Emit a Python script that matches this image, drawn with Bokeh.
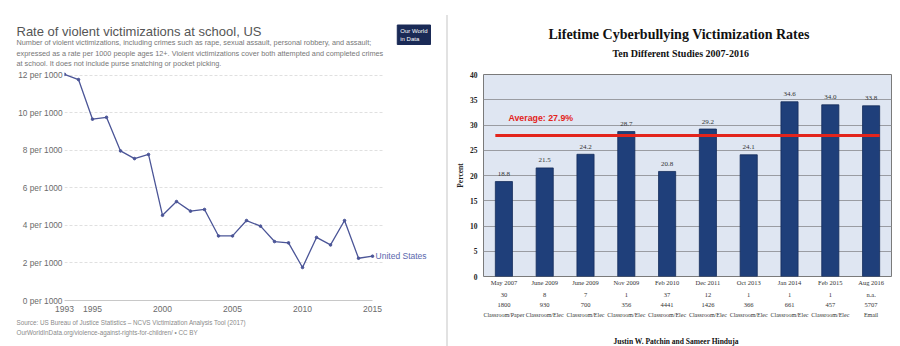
import numpy as np
from bokeh.plotting import figure
from bokeh.models import Range1d, FixedTicker, LinearAxis, Label, Title, Div
from bokeh.layouts import row, column
from bokeh.embed import file_html
from bokeh.resources import INLINE
from bokeh.core.properties import value

# ---------------- left chart data ----------------
years = [1993, 1994, 1995, 1996, 1997, 1998, 1999, 2000, 2001, 2002, 2003, 2004,
         2005, 2006, 2007, 2008, 2009, 2010, 2011, 2012, 2013, 2014, 2015]
rates = [12.05, 11.77, 9.66, 9.76, 7.97, 7.56, 7.78, 4.54, 5.27, 4.76, 4.85, 3.44,
         3.44, 4.26, 3.96, 3.14, 3.07, 1.76, 3.36, 2.96, 4.26, 2.25, 2.36]
x_ticks = [1993, 1995, 2000, 2005, 2010, 2015]
y_ticks = [0, 2, 4, 6, 8, 10, 12]
y_tick_labels = ["0 per 1000", "2 per 1000", "4 per 1000", "6 per 1000",
                 "8 per 1000", "10 per 1000", "12 per 1000"]
left_title = "Rate of violent victimizations at school, US"
left_subtitle = [
    "Number of violent victimizations, including crimes such as rape, sexual assault, personal robbery, and assault;",
    "expressed as a rate per 1000 people ages 12+. Violent victimizations cover both attempted and completed crimes",
    "at school. It does not include purse snatching or pocket picking.",
]
left_source = [
    "Source: US Bureau of Justice Statistics \u2013 NCVS Victimization Analysis Tool (2017)",
    "OurWorldInData.org/violence-against-rights-for-children/ \u2022 CC BY",
]
logo_text = ["Our World", "in Data"]
series_name = "United States"

# ---------------- right chart data ----------------
dates = ["May 2007", "June 2009", "June 2009", "Nov 2009", "Feb 2010",
         "Dec 2011", "Oct 2013", "Jan 2014", "Feb 2015", "Aug 2016"]
percent = [18.8, 21.5, 24.2, 28.7, 20.8, 29.2, 24.1, 34.6, 34.0, 33.8]
schools = ["30", "8", "7", "1", "37", "12", "1", "1", "1", "n.a."]
samples = ["1800", "930", "700", "356", "4441", "1426", "366", "661", "457", "5707"]
methods = ["Classroom/Paper", "Classroom/Elec", "Classroom/Elec", "Classroom/Elec",
           "Classroom/Elec", "Classroom/Elec", "Classroom/Elec", "Classroom/Elec",
           "Classroom/Elec", "Email"]
average = 27.9
r_y_ticks = [0, 5, 10, 15, 20, 25, 30, 35, 40]
right_title = "Lifetime Cyberbullying Victimization Rates"
right_subtitle = "Ten Different Studies 2007-2016"
right_authors = "Justin W. Patchin and Sameer Hinduja"

SANS = "Liberation Sans"
SERIF = "Liberation Serif"

# ================= LEFT =================
L = figure(width=446, height=346, x_range=Range1d(1993, 2019.14), y_range=Range1d(0, 12.2),
           output_backend="svg", toolbar_location=None,
           min_border_left=64, min_border_right=16, min_border_top=71, min_border_bottom=46)
L.outline_line_color = None
L.border_fill_color = "white"
L.xgrid.visible = False
grid = L.ygrid[0]
grid.ticker = FixedTicker(ticks=y_ticks)
grid.grid_line_color = "#e0e0e0"
grid.grid_line_dash = "3 2"
if "cross_bounds" in grid.properties():
    grid.cross_bounds = (1993, 2015.79)

xa = L.xaxis[0]
xa.ticker = FixedTicker(ticks=x_ticks)
xa.bounds = (years[0], years[-1])
xa.axis_line_color = "#c8c8c8"
xa.major_tick_line_color = None
xa.minor_tick_line_color = None
xa.major_tick_out = 0
xa.major_label_text_font = SANS
xa.major_label_text_font_size = "8.5px"
xa.major_label_text_color = "#6b6b6b"
xa.major_label_standoff = 5

ya = L.yaxis[0]
ya.ticker = FixedTicker(ticks=y_ticks)
ya.major_label_overrides = dict(zip(y_ticks, y_tick_labels))
ya.axis_line_color = None
ya.major_tick_line_color = None
ya.minor_tick_line_color = None
ya.major_tick_out = 0
ya.major_label_text_font = SANS
ya.major_label_text_font_size = "8.3px"
ya.major_label_text_color = "#6b6b6b"
ya.major_label_standoff = 2

line_col = "#4b5597"
L.line(years, rates, line_color=line_col, line_width=1.3)
L.scatter(years, rates, size=2.6, color=line_col)
L.add_layout(Label(x=years[-1], y=rates[-1], x_offset=3, text=series_name,
                   text_baseline="middle", text_font=SANS, text_font_size="8.5px",
                   text_color="#5a68ad"))

L.add_layout(Title(text="\n".join(left_subtitle), align="left", offset=-48, standoff=6,
                   text_font=SANS, text_font_size="7.3px", text_font_style="normal",
                   text_color="#777777", text_line_height=1.2), "above")
L.add_layout(Title(text=left_title, align="left", offset=-48, standoff=-13,
                   text_font=SANS, text_font_size="13px", text_font_style="normal",
                   text_color="#555555"), "above")
logo = Title(text="\n".join(logo_text), align="right", offset=0, standoff=-32,
             text_font=SANS, text_font_size="6px", text_font_style="normal",
             text_color="white", text_line_height=1.25,
             background_fill_color="#1a2a56", border_line_color="#1a2a56")
if "padding" in logo.properties():
    logo.padding = 3
L.add_layout(logo, "above")
L.add_layout(Title(text="\n".join(left_source), align="left", offset=-48, standoff=5,
                   text_font=SANS, text_font_size="6.3px", text_font_style="normal",
                   text_color="#8a8a8a", text_line_height=1.4), "below")

# ================= RIGHT =================
pos = np.arange(len(dates))
R = figure(width=452, height=346, x_range=Range1d(-0.5, len(dates) - 0.5), y_range=Range1d(0, 40),
           output_backend="svg", toolbar_location=None, x_axis_location=None,
           min_border_left=35, min_border_right=9, min_border_top=74, min_border_bottom=70)
R.background_fill_color = "#dfe6f2"
R.border_fill_color = "white"
R.outline_line_color = "#7a7a7a"
R.outline_line_width = 1
R.xgrid.visible = False
R.ygrid.ticker = FixedTicker(ticks=r_y_ticks)
R.ygrid.grid_line_color = "#9a9ca2"
R.ygrid.grid_line_width = 1

ry = R.yaxis[0]
ry.ticker = FixedTicker(ticks=r_y_ticks)
ry.axis_line_color = None
ry.major_tick_line_color = None
ry.minor_tick_line_color = None
ry.major_tick_out = 0
ry.major_label_text_font = SERIF
ry.major_label_text_font_style = "bold"
ry.major_label_text_font_size = "7.5px"
ry.major_label_text_color = "#222222"
ry.major_label_standoff = 6
ry.axis_label = "Percent"
ry.axis_label_text_font = SERIF
ry.axis_label_text_font_style = "bold"
ry.axis_label_text_font_size = "7.5px"
ry.axis_label_text_color = "#222222"
ry.axis_label_standoff = 2

bar_w = 0.42
R.vbar(x=pos, top=percent, width=bar_w, fill_color="#1f3f7a", line_color="#142c5a", line_width=0.8)
R.text(x=pos, y=percent, text=[f"{v:.1f}" for v in percent], y_offset=-7.5,
       text_align="center", text_baseline="middle", text_font=value(SERIF),
       text_font_size="7px", text_color="#333333")
R.segment(x0=[pos[0] - bar_w / 2], y0=[average], x1=[pos[-1] + bar_w / 2], y1=[average],
          line_color="#e3241c", line_width=3)
R.add_layout(Label(x=pos[0], y=average, x_offset=4.5, y_offset=18, text=f"Average: {average}%",
                   text_font=SANS, text_font_style="bold",
                   text_font_size="8.8px", text_color="#e3241c", text_baseline="middle"))

for labels, fsize in [(dates, "6.5px"), (schools, "6.5px"), (samples, "6.5px"), (methods, "6px")]:
    ax = LinearAxis(ticker=FixedTicker(ticks=pos.tolist()),
                    major_label_overrides=dict(zip(pos.tolist(), labels)))
    ax.axis_line_color = None
    ax.major_tick_line_color = None
    ax.minor_tick_line_color = None
    ax.major_tick_out = 0
    ax.major_tick_in = 0
    ax.major_label_text_font = SERIF
    ax.major_label_text_font_size = fsize
    ax.major_label_text_color = "#333333"
    ax.major_label_standoff = 2
    R.add_layout(ax, "below")

R.add_layout(Title(text=right_subtitle, align="left", offset=129, standoff=32,
                   text_font=SERIF, text_font_size="10px", text_font_style="bold",
                   text_color="#111111"), "above")
R.add_layout(Title(text=right_title, align="left", offset=65, standoff=-25,
                   text_font=SERIF, text_font_size="14px", text_font_style="bold",
                   text_color="#111111"), "above")
# blank spacer between the stacked category rows and the authors line
R.add_layout(Title(text=" ", standoff=11, text_font=SERIF, text_font_size="1px"), "below")
R.add_layout(Title(text=right_authors, align="left", offset=130, standoff=0,
                   text_font=SERIF, text_font_size="7.5px", text_font_style="bold",
                   text_color="#111111"), "below")

sep = Div(width=2, height=331, margin=(15, 0, 0, 0), styles={"background-color": "#e2e2e2"})
layout = row(column(L), sep, column(R), spacing=0)
open("out.html", "w").write(file_html(layout, INLINE))
